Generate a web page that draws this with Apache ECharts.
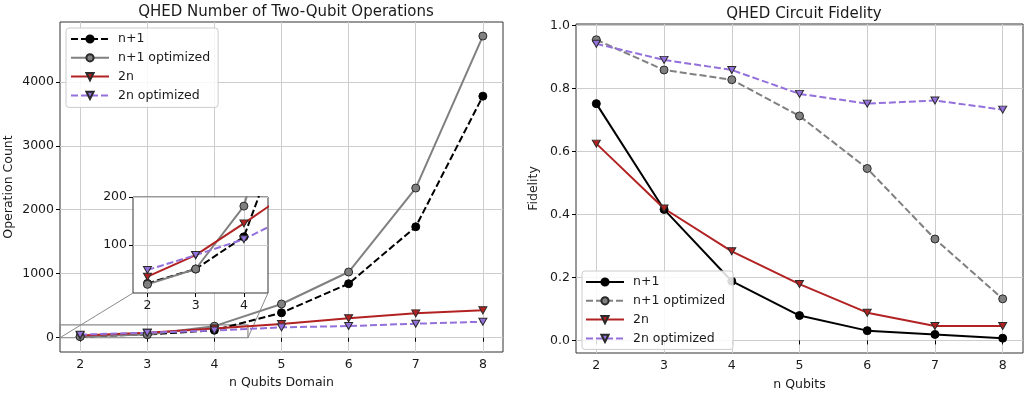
<!DOCTYPE html>
<html>
<head>
<meta charset="utf-8">
<script src="https://cdn.jsdelivr.net/npm/echarts@6/dist/echarts.min.js"></script>
<style>
  html, body { margin: 0; padding: 0; background: #fff; }
  #main { width: 1026px; height: 396px; }
</style>
</head>
<body>
<div id="main"></div>
<script>
// values
var qubits = [2, 3, 4, 5, 6, 7, 8];
var opsN1 = [20, 50, 117, 390, 844, 1734, 3775];
var opsN1Opt = [18, 50, 181, 527, 1027, 2339, 4714];
var ops2n = [34, 79, 145, 214, 303, 381, 428];
var ops2nOpt = [48, 79, 112, 162, 183, 219, 250];
var fidN1 = [0.752, 0.416, 0.188, 0.079, 0.031, 0.019, 0.007];
var fidN1Opt = [0.955, 0.859, 0.828, 0.713, 0.546, 0.322, 0.132];
var fid2n = [0.625, 0.419, 0.283, 0.179, 0.088, 0.046, 0.046];
var fid2nOpt = [0.942, 0.891, 0.859, 0.783, 0.752, 0.762, 0.733];
var xTicks = [2, 3, 4, 5, 6, 7, 8];
var opsTicks = [0, 1000, 2000, 3000, 4000];
var fidTicks = [0, 0.2, 0.4, 0.6, 0.8, 1.0];
var insetXTicks = [2, 3, 4];
var insetYTicks = [100, 200];

var FONT = 'DejaVu Sans';
var BLACK = '#000000', GRAY = '#808080', RED = '#b22222', PURPLE = '#9370db';
var DASH = [7, 3];

function pairs(ys) {
  return qubits.map(function (q, i) { return [q, ys[i]]; });
}

function line(name, ys, color, dashed, marker, xi, yi, z) {
  var tri = marker === 'tri';
  return {
    type: 'line', name: name, data: pairs(ys),
    xAxisIndex: xi, yAxisIndex: yi, z: z || 2,
    symbol: tri ? 'triangle' : 'circle',
    symbolRotate: tri ? 180 : 0,
    symbolSize: tri ? [8, 7] : 8,
    showSymbol: true,
    lineStyle: { color: color, width: 2, type: dashed ? DASH : 'solid' },
    itemStyle: { color: color, borderColor: color === BLACK ? BLACK : '#2a2a2a', borderWidth: 1 },
    emphasis: { disabled: true }
  };
}

function valueAxis(opt) {
  var a = {
    type: 'value', gridIndex: opt.grid, min: opt.min, max: opt.max,
    axisLine: { show: false },
    axisTick: { show: true, inside: false, length: 4, customValues: opt.ticks, lineStyle: { color: '#000' } },
    axisLabel: { customValues: opt.ticks, color: '#1a1a1a', fontFamily: FONT, fontSize: 12.5, margin: 6,
                 formatter: opt.fmt || function (v) { return String(v); } },
    splitLine: { show: true, lineStyle: { color: '#cdcdcd', width: 1 } },
    z: opt.z || 0
  };
  if (opt.name) {
    a.name = opt.name; a.nameLocation = 'middle'; a.nameGap = opt.gap;
    a.nameTextStyle = { fontFamily: FONT, fontSize: 12.5, color: '#1a1a1a' };
  }
  return a;
}

var legendCommon = {
  orient: 'vertical', itemWidth: 38, itemHeight: 9, itemGap: 4.8,
  selectedMode: false, backgroundColor: 'rgba(255,255,255,0.85)',
  borderColor: '#cccccc', borderWidth: 1, borderRadius: 3,
  textStyle: { fontFamily: FONT, fontSize: 12.5, color: '#1a1a1a', lineHeight: 14, padding: [0, 0, 0, 4] }
};

var chart = echarts.init(document.getElementById('main'));

var option = {
  animation: false,
  backgroundColor: '#ffffff',
  title: [
    { text: 'QHED Number of Two-Qubit Operations', left: 281, top: 0, textAlign: 'center',
      textStyle: { fontFamily: FONT, fontSize: 15, fontWeight: 'normal', color: '#1a1a1a' } },
    { text: 'QHED Circuit Fidelity', left: 799, top: 2, textAlign: 'center',
      textStyle: { fontFamily: FONT, fontSize: 15, fontWeight: 'normal', color: '#1a1a1a' } }
  ],
  grid: [
    { left: 60, top: 22, width: 443, height: 330, show: true, borderColor: '#333', borderWidth: 1, backgroundColor: 'transparent' },
    { left: 576, top: 24, width: 447, height: 332, show: true, borderColor: '#333', borderWidth: 1, backgroundColor: 'transparent' },
    { left: 133, top: 197, width: 135, height: 96, show: false }
  ],
  xAxis: [
    valueAxis({ grid: 0, min: 1.7, max: 8.3, ticks: xTicks, name: 'n Qubits Domain', gap: 24 }),
    valueAxis({ grid: 1, min: 1.7, max: 8.3, ticks: xTicks, name: 'n Qubits', gap: 25 }),
    valueAxis({ grid: 2, min: 1.7, max: 4.5, ticks: insetXTicks, z: 3 })
  ],
  yAxis: [
    valueAxis({ grid: 0, min: -223, max: 4934, ticks: opsTicks, name: 'Operation Count', gap: 45 }),
    valueAxis({ grid: 1, min: -0.04, max: 1.005, ticks: fidTicks, name: 'Fidelity', gap: 36,
                fmt: function (v) { return v.toFixed(1); } }),
    valueAxis({ grid: 2, min: 0, max: 200, ticks: insetYTicks, z: 3 })
  ],
  legend: [
    Object.assign({}, legendCommon, {
      left: 66, top: 28, padding: [4, 8, 5, 4],
      data: ['n+1', 'n+1 optimized', '2n', '2n optimized']
    }),
    Object.assign({}, legendCommon, {
      left: 582, top: 271, padding: [4, 8, 4, 3],
      data: ['R:n+1', 'R:n+1 optimized', 'R:2n', 'R:2n optimized'],
      formatter: function (n) { return n.replace('R:', ''); }
    })
  ],
  series: [
    line('n+1', opsN1, BLACK, true, 'dot', 0, 0),
    line('n+1 optimized', opsN1Opt, GRAY, false, 'dot', 0, 0),
    line('2n', ops2n, RED, false, 'tri', 0, 0),
    line('2n optimized', ops2nOpt, PURPLE, true, 'tri', 0, 0),

    line('R:n+1', fidN1, BLACK, false, 'dot', 1, 1),
    line('R:n+1 optimized', fidN1Opt, GRAY, true, 'dot', 1, 1),
    line('R:2n', fid2n, RED, false, 'tri', 1, 1),
    line('R:2n optimized', fid2nOpt, PURPLE, true, 'tri', 1, 1),

    line('inset n+1', opsN1, BLACK, true, 'dot', 2, 2, 5),
    line('inset n+1 optimized', opsN1Opt, GRAY, false, 'dot', 2, 2, 5),
    line('inset 2n', ops2n, RED, false, 'tri', 2, 2, 5),
    line('inset 2n optimized', ops2nOpt, PURPLE, true, 'tri', 2, 2, 5)
  ]
};

// zoom rectangle on the main panel
option.series[0].markArea = {
  silent: true,
  itemStyle: { color: 'rgba(0,0,0,0)', borderColor: '#8a8a8a', borderWidth: 1.2 },
  data: [[{ coord: [1.7, 0] }, { coord: [4.5, 200] }]]
};

chart.setOption(option);

// inset background + connector lines
var g = option.grid[2];
var pA = chart.convertToPixel({ gridIndex: 0 }, [1.7, 0]);
var pB = chart.convertToPixel({ gridIndex: 0 }, [4.5, 0]);
chart.setOption({
  graphic: [
    { type: 'rect', z: 1, shape: { x: g.left, y: g.top, width: g.width, height: g.height },
      style: { fill: '#fff', stroke: '#333', lineWidth: 1 } },
    { type: 'line', z: 1, shape: { x1: pA[0], y1: pA[1], x2: g.left, y2: g.top + g.height },
      style: { stroke: '#8a8a8a', lineWidth: 1 } },
    { type: 'line', z: 1, shape: { x1: pB[0], y1: pB[1], x2: g.left + g.width, y2: g.top + g.height },
      style: { stroke: '#8a8a8a', lineWidth: 1 } }
  ]
});
</script>
</body>
</html>
